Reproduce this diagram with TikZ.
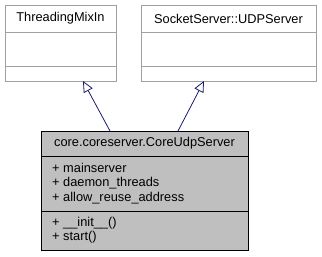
\documentclass[tikz,border=0pt]{standalone}
\usepackage{fontspec}
\setmainfont{Liberation Sans}
\usetikzlibrary{arrows.meta}
\definecolor{frame}{HTML}{A0A0A0}
\definecolor{classfill}{HTML}{BFBFBF}
\definecolor{inherit}{HTML}{191970}
\begin{document}
\begin{tikzpicture}[x=1pt,y=-1pt,
  txt/.style={inner sep=0pt, font=\fontsize{12.8}{14.5}\selectfont},
  basebox/.style={draw=frame, fill=white, line width=0.8pt, inner sep=0pt, anchor=north west},
  mainbox/.style={draw=black, fill=classfill, line width=0.8pt, inner sep=0pt, anchor=north west},
  divline/.style={line width=0.8pt},
  inh/.style={draw=inherit, line width=0.8pt, -{Triangle[open, length=11pt, width=10pt, fill=white]}}
]
\useasboundingbox (0,0) rectangle (322,257);

% base class ThreadingMixIn
\node[basebox, minimum width=111pt, minimum height=76pt] (tmi) at (5,5) {};
\draw[divline, frame] (5,32) -- (116,32);
\draw[divline, frame] (5,66) -- (116,66);
\node[txt] (tminame) at (60.5,18.5) {ThreadingMixIn};

% base class SocketServer::UDPServer
\node[basebox, minimum width=175pt, minimum height=76pt] (udp) at (141,5) {};
\draw[divline, frame] (141,32) -- (316,32);
\draw[divline, frame] (141,66) -- (316,66);
\node[txt] (udpname) at (228.5,18.5) {SocketServer::UDPServer};

% derived class CoreUdpServer
\node[mainbox, minimum width=207pt, minimum height=119pt] (cus) at (41,131) {};
\draw[divline] (41,156) -- (248,156);
\draw[divline] (41,211) -- (248,211);
\node[txt] (cusname) at (144.5,143.5) {core.coreserver.CoreUdpServer};
\node[txt, anchor=west, align=left] (cusattr) at (52,183.5)
  {+ mainserver\\+ daemon\_threads\\+ allow\_reuse\_address};
\node[txt, anchor=west, align=left] (cusops) at (52,230)
  {+ \_\_init\_\_()\\+ start()};

% inheritance connectors
\coordinate (cusL) at (110,131);
\coordinate (cusR) at (178,131);
\coordinate (tmiB) at (83,81);
\coordinate (udpB) at (204,81);
\draw[inh] (cusL) -- (tmiB);
\draw[inh] (cusR) -- (udpB);
\end{tikzpicture}
\end{document}
